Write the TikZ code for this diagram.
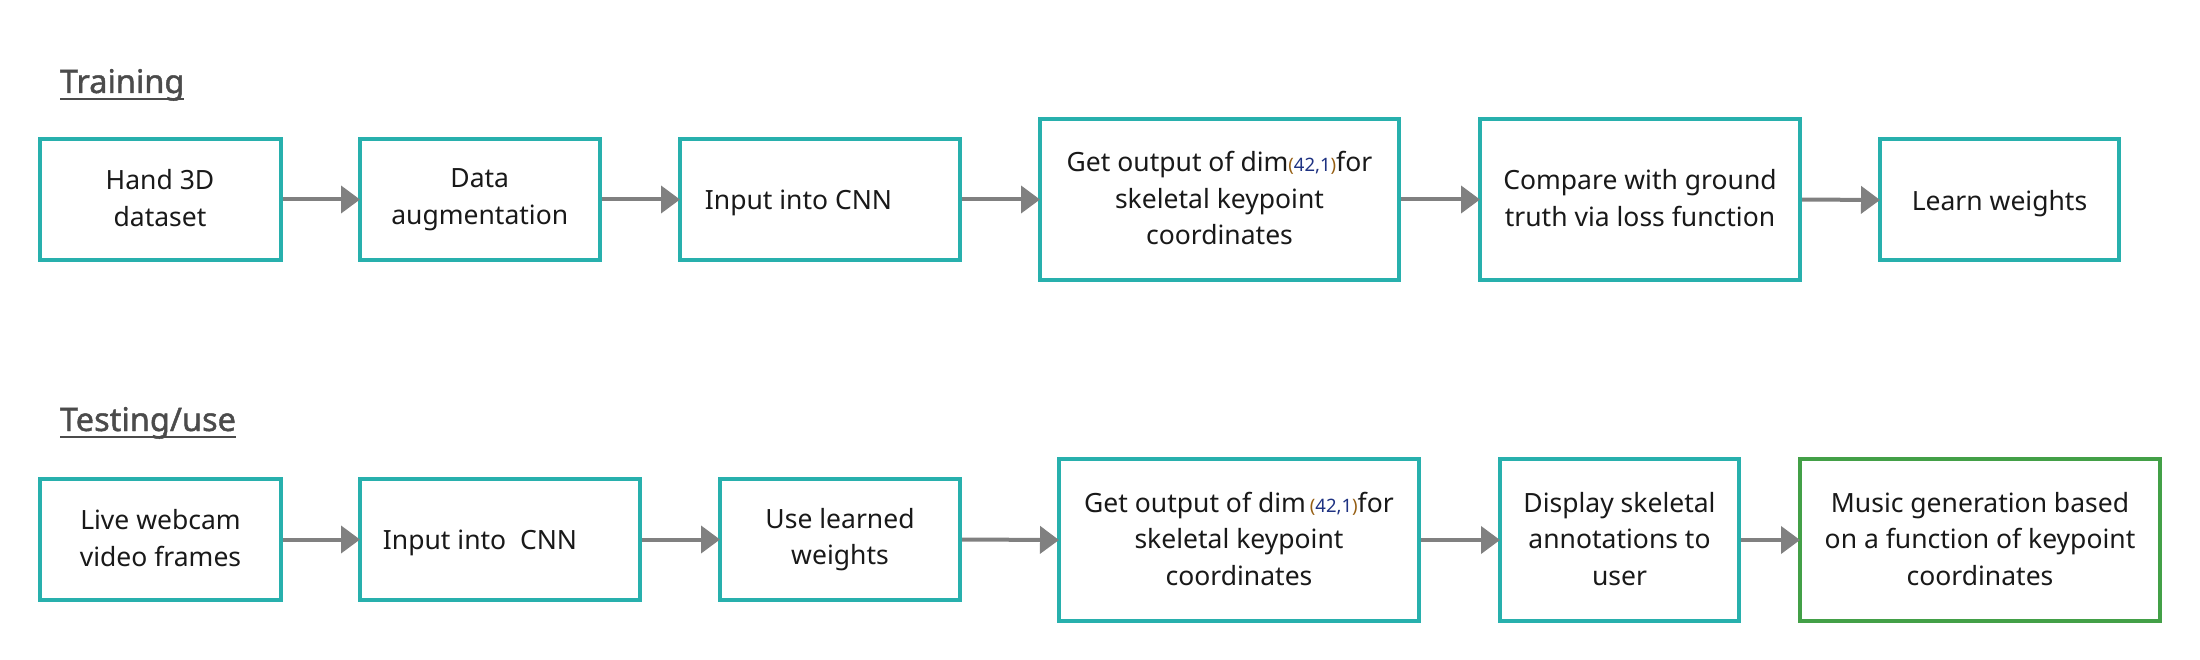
\documentclass[tikz,border=0pt]{standalone}
\usepackage{fontspec}
\setmainfont{Noto Sans}
\newfontfamily\titlefont{Noto Sans}[FakeBold=1.3]
\usetikzlibrary{arrows.meta}
\definecolor{boxteal}{RGB}{40,176,173}
\definecolor{boxgreen}{RGB}{67,160,71}
\definecolor{arrgray}{RGB}{128,128,128}
\definecolor{txt}{RGB}{25,25,25}
\definecolor{ttl}{RGB}{75,75,75}
\definecolor{parc}{RGB}{150,95,20}
\definecolor{numc}{RGB}{30,50,130}
\newcommand{\dimtxt}{{\fontsize{18.5}{20}\selectfont\textcolor{parc}{(}\textcolor{numc}{42,1}\textcolor{parc}{)}}}
\newcommand{\bxstrut}{\rule[-3pt]{0pt}{30pt}}
\begin{document}
\begin{tikzpicture}[x=1pt,y=-1pt,
  box/.style={draw=boxteal, line width=4pt, fill=white, rectangle, inner sep=0pt, outer sep=0pt,
    align=center, text=txt, font=\fontsize{26.5}{36.5}\selectfont,
    execute at begin node=\bxstrut, execute at end node=\bxstrut},
  flow/.style={draw=arrgray, line width=4pt, -{Triangle[length=19pt,width=27pt]}, shorten <=2pt},
  title/.style={anchor=base west, inner sep=0pt, outer sep=0pt, text=ttl, font=\titlefont\fontsize{32.5}{36}\selectfont},
  uline/.style={draw=ttl, line width=2pt}]
\useasboundingbox (0,0) rectangle (2200,660);
\fill[white] (0,0) rectangle (2200,660);

% Titles
\node[title] (t1) at (60,93) {Training};
\draw[uline] ([yshift=-6pt]t1.base west) -- ([yshift=-6pt]t1.base east);
\node[title] (t2) at (60,431) {Testing/use};
\draw[uline] ([yshift=-6pt]t2.base west) -- ([yshift=-6pt]t2.base east);

% Training row
\node[box, minimum width=241pt, minimum height=121pt] (a1) at (160,199.5) {Hand 3D\\dataset};
\node[box, minimum width=239.5pt, minimum height=121pt] (a2) at (479.75,199.5) {Data\\augmentation};
\node[box, minimum width=280pt, minimum height=121pt] (a3) at (820,199.5) {Input into CNN\hspace*{43pt}};
\node[box, minimum width=359pt, minimum height=161pt] (a4) at (1219.5,199.5) {Get output of dim\dimtxt for\\skeletal keypoint\\coordinates};
\node[box, minimum width=320pt, minimum height=161pt] (a5) at (1640,199.5) {Compare with ground\\truth via loss function};
\node[box, minimum width=239pt, minimum height=121pt] (a6) at (1999.5,200) {Learn weights};

\draw[flow] (a1.east) -- (a2.west);
\draw[flow] (a2.east) -- (a3.west);
\draw[flow] (a3.east) -- (a4.west);
\draw[flow] (a4.east) -- (a5.west);
\draw[flow] (a5.east) -- (a6.west);

% Testing row
\node[box, minimum width=241pt, minimum height=121pt] (b1) at (160.5,539.5) {Live webcam\\video frames};
\node[box, minimum width=280pt, minimum height=121pt] (b2) at (500,539.5) {Input into\ \ CNN\hspace*{40pt}};
\node[box, minimum width=240pt, minimum height=121pt] (b3) at (840,539.5) {Use learned\\weights};
\node[box, minimum width=360pt, minimum height=162pt] (b4) at (1239,540) {Get output of dim\hspace{4pt}\dimtxt for\\skeletal keypoint\\coordinates};
\node[box, minimum width=239pt, minimum height=162pt] (b5) at (1619.5,540) {Display skeletal\\annotations to\\user};
\node[box, draw=boxgreen, minimum width=360pt, minimum height=162pt] (b6) at (1980,540) {Music generation based\\on a function of keypoint\\coordinates};

\draw[flow] (b1.east) -- (b2.west);
\draw[flow] (b2.east) -- (b3.west);
\draw[flow] (b3.east) -- (b4.west);
\draw[flow] (b4.east) -- (b5.west);
\draw[flow] (b5.east) -- (b6.west);
\end{tikzpicture}
\end{document}
